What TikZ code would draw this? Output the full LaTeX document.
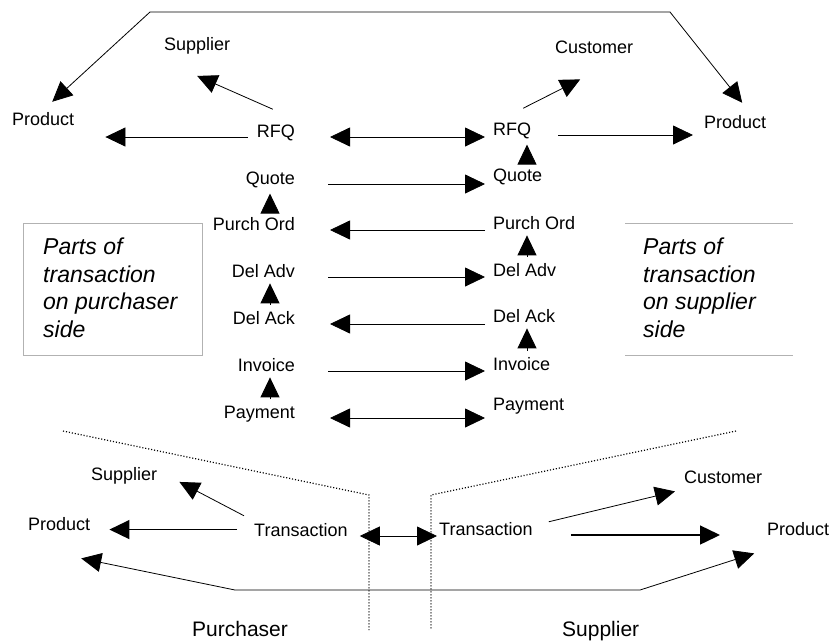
\documentclass[tikz,border=0pt]{standalone}
\usepackage{fontspec}
\setmainfont{Liberation Sans}
\usetikzlibrary{arrows.meta}

\begin{document}
\begin{tikzpicture}[x=1pt, y=-1pt,
        lbl/.style={inner sep=0pt, font=\fontsize{18}{21}\selectfont},
        side/.style={inner sep=0pt, align=left, font=\fontsize{23}{27.5}\selectfont\itshape},
        party/.style={inner sep=0pt, font=\fontsize{21}{24}\selectfont},
        arr/.style={line width=0.8pt, -{Triangle[length=20pt, width=19pt]}},
        dbl/.style={line width=0.8pt, {Triangle[length=20pt, width=19pt]}-{Triangle[length=20pt, width=19pt]}},
        fwd/.style={arr, shorten <=33pt, shorten >=8pt},
        bwd/.style={arr, shorten <=8pt, shorten >=35pt},
        both/.style={dbl, shorten <=35pt, shorten >=8pt},
        tri/.style={arr, shorten <=6pt, shorten >=6pt},
        heavy/.style={arr, line width=1.4pt},
        sep/.style={line width=1.2pt, dash pattern=on 1.1pt off 1.9pt}]
    \useasboundingbox (0, 0) rectangle (830, 641);

    \coordinate (tl) at (150, 12);
    \coordinate (tr) at (670, 12);
    \coordinate (lax) at (270, 0);
    \coordinate (rax) at (527, 0);

    \node[lbl, anchor=base west] (lprod) at (12, 125) {Product};
    \node[lbl, anchor=base west] (lsup) at (164, 50) {Supplier};
    \node[lbl, anchor=base west] (rcus) at (555, 53) {Customer};
    \node[lbl, anchor=base west] (rprod) at (704, 128) {Product};

    \node[lbl, anchor=base east] (lrfq) at (295, 137) {RFQ};
    \node[lbl, anchor=base east] (lquo) at (295, 184) {Quote};
    \node[lbl, anchor=base east] (lpo) at (295, 230) {Purch Ord};
    \node[lbl, anchor=base east] (ladv) at (295, 277) {Del Adv};
    \node[lbl, anchor=base east] (lack) at (295, 324) {Del Ack};
    \node[lbl, anchor=base east] (linv) at (295, 371) {Invoice};
    \node[lbl, anchor=base east] (lpay) at (295, 418) {Payment};

    \node[lbl, anchor=base west] (rrfq) at (493, 135) {RFQ};
    \node[lbl, anchor=base west] (rquo) at (493, 181) {Quote};
    \node[lbl, anchor=base west] (rpo) at (493, 229) {Purch Ord};
    \node[lbl, anchor=base west] (radv) at (493, 276) {Del Adv};
    \node[lbl, anchor=base west] (rack) at (493, 322) {Del Ack};
    \node[lbl, anchor=base west] (rinv) at (493, 370) {Invoice};
    \node[lbl, anchor=base west] (rpay) at (493, 410) {Payment};

    \draw[dbl, shorten <=0pt, shorten >=0pt] ([xshift=9pt, yshift=10pt]lprod.north) -- (tl) -- (tr) -- ([xshift=7pt, yshift=12pt]rprod.north);
    \draw[arr] ([xshift=-3pt, yshift=15pt]lrfq.north) -- ([yshift=-22pt]lsup.south);
    \draw[arr, shorten <=9pt, shorten >=31pt] (lrfq.base west) -- (lrfq.base west -| lprod.east);
    \draw[arr] ([xshift=11pt, yshift=14pt]rrfq.north) -- ([xshift=-14pt, yshift=-26pt]rcus.south);
    \draw[arr, shorten <=27pt, shorten >=11pt] (rrfq.base east) -- (rrfq.base east -| rprod.west);

    \draw[both] (lrfq.base east) -- (lrfq.base east -| rrfq.west);
    \draw[fwd] (lquo.base east) -- (lquo.base east -| rquo.west);
    \draw[bwd] (lpo.base east -| rpo.west) -- (lpo.base east);
    \draw[fwd] (ladv.base east) -- (ladv.base east -| radv.west);
    \draw[bwd] (lack.base east -| rack.west) -- (lack.base east);
    \draw[fwd] (linv.base east) -- (linv.base east -| rinv.west);
    \draw[both] (lpay.base east) -- (lpay.base east -| rpay.west);

    \draw[tri] (lpo.north -| lax) -- (lquo.south -| lax);
    \draw[tri] (lack.north -| lax) -- (ladv.south -| lax);
    \draw[tri] (lpay.north -| lax) -- (linv.south -| lax);
    \draw[tri] (rquo.north -| rax) -- (rrfq.south -| rax);
    \draw[tri] (radv.north -| rax) -- (rpo.south -| rax);
    \draw[tri] (rinv.north -| rax) -- (rack.south -| rax);

    \draw[gray!60] (23, 223) rectangle (202, 355);
    \node[side, anchor=north west] (lside) at (43, 238) {Parts of\\transaction\\on purchaser\\side};
    \draw[gray!60] (625, 223) -- (793, 223);
    \draw[gray!60] (625, 355) -- (793, 355);
    \node[side, anchor=north west] (rside) at (643, 238) {Parts of\\transaction\\on supplier\\side};

    \draw[sep] (63, 431) -- (369, 495) -- (369, 630);
    \draw[sep] (736, 431) -- (431, 495) -- (431, 630);

    \coordinate (bl) at (235, 590);
    \coordinate (br) at (640, 590);

    \node[lbl, anchor=base west] (lsupb) at (91, 480) {Supplier};
    \node[lbl, anchor=base west] (lprodb) at (28, 530) {Product};
    \node[lbl, anchor=base west] (ltr) at (254, 536) {Transaction};
    \node[lbl, anchor=base west] (rtr) at (439, 535) {Transaction};
    \node[lbl, anchor=base west] (rcusb) at (684, 483) {Customer};
    \node[lbl, anchor=base west] (rprodb) at (767, 535) {Product};

    \draw[arr] ([xshift=-10pt, yshift=7pt]ltr.north west) -- ([xshift=22pt, yshift=2pt]lsupb.south east);
    \draw[heavy, shorten <=17pt, shorten >=19pt] (ltr.west) -- (ltr.west -| lprodb.east);
    \draw[dbl, shorten <=12pt, shorten >=2pt] (ltr.base east) -- (ltr.base east -| rtr.west);
    \draw[arr] ([xshift=16pt]rtr.north east) -- ([xshift=-9pt, yshift=-8pt]rcusb.south west);
    \draw[heavy, shorten <=38pt, shorten >=47pt] (rtr.base east) -- (rtr.base east -| rprodb.west);
    \draw[dbl] ([xshift=22pt, yshift=-28pt]lprodb.south) -- (bl) -- (br) -- ([xshift=-44pt, yshift=-18pt]rprodb.south);

    \node[party, anchor=base west] (purch) at (192, 636) {Purchaser};
    \node[party, anchor=base west] (suppl) at (562, 636) {Supplier};
\end{tikzpicture}
\end{document}
